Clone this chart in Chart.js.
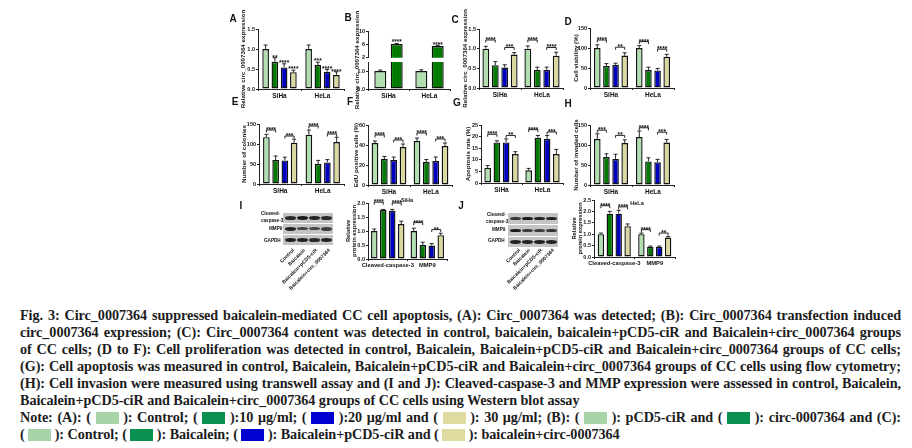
<!DOCTYPE html>
<html lang="en">
<head>
<meta charset="UTF-8">
<title>Fig. 3</title>
<script src="https://cdn.jsdelivr.net/npm/chart.js"></script>
<style>
    html, body { margin: 0; padding: 0; background: #fff; width: 912px; height: 448px; overflow: hidden; }
    #fig { position: absolute; left: 0; top: 0; width: 912px; height: 290px; filter: blur(0.4px); }
    #fig canvas { position: absolute; }
    .t { position: absolute; font-family: "Liberation Sans", Arial, sans-serif; font-weight: bold; color: #111; white-space: nowrap; }
    .letter { font-size: 10px; transform: translate(-50%, -50%); }
    .strip { position: absolute; background: #c4c4c4; }
    .band { position: absolute; background: #111; border-radius: 50%; filter: blur(0.6px); }
    .line { position: absolute; left: 20px; width: 881px; font: bold 14.2px/17px "Liberation Serif", "Times New Roman", serif; letter-spacing: -0.06px; color: #1c1c1c; white-space: nowrap; }
    .just { text-align: justify; text-align-last: justify; white-space: normal; }
    .sw { display: inline-block; width: 23px; height: 12px; vertical-align: -2px; }
    .lg { background: #a8d5a8; } .dg { background: #0a9150; } .bl { background: #0000d0; } .kh { background: #dedba0; }
</style>
</head>
<body>
<div id="fig"></div>
<div class="line just" style="top:307px">Fig. 3: Circ_0007364 suppressed baicalein-mediated CC cell apoptosis, (A): Circ_0007364 was detected; (B): Circ_0007364 transfection induced</div>
<div class="line just" style="top:324px">circ_0007364 expression; (C): Circ_0007364 content was detected in control, baicalein, baicalein+pCD5-ciR and Baicalein+circ_0007364 groups</div>
<div class="line just" style="top:341px">of CC cells; (D to F): Cell proliferation was detected in control, Baicalein, Baicalein+pCD5-ciR and Baicalein+circ_0007364 groups of CC cells;</div>
<div class="line just" style="top:358px">(G): Cell apoptosis was measured in control, Baicalein, Baicalein+pCD5-ciR and Baicalein+circ_0007364 groups of CC cells using flow cytometry;</div>
<div class="line just" style="top:375px">(H): Cell invasion were measured using transwell assay and (I and J): Cleaved-caspase-3 and MMP expression were assessed in control, Baicalein,</div>
<div class="line" style="top:392px">Baicalein+pCD5-ciR and Baicalein+circ_0007364 groups of CC cells using Western blot assay</div>
<div class="line just" style="top:409px">Note: (A): ( <span class="sw lg"></span> ): Control; ( <span class="sw dg"></span> ):10 μg/ml; ( <span class="sw bl"></span> ):20 μg/ml and ( <span class="sw kh"></span> ): 30 μg/ml; (B): ( <span class="sw lg"></span> ): pCD5-ciR and ( <span class="sw dg"></span> ): circ-0007364 and (C):</div>
<div class="line" style="top:426px">( <span class="sw lg"></span> ): Control; ( <span class="sw dg"></span> ): Baicalein; ( <span class="sw bl"></span> ): Baicalein+pCD5-ciR and ( <span class="sw kh"></span> ): baicalein+circ-0007364</div>
<script>
const cells = ['SiHa', 'HeLa'];
const proteins = ['Cleaved-caspase-3', 'MMP9'];
const laneNames = ['Control', 'Baicalein', 'Baicalein+pCD5-ciR', 'Baicalein+circ_0007364'];

// one row per bar colour, [first group, second group]
const aBars = [[1.0, 1.0], [0.68, 0.60], [0.54, 0.43], [0.42, 0.35]];
const aErrs = [[0.10, 0.10], [0.10, 0.07], [0.09, 0.06], [0.05, 0.08]];
// marks: group, from bar, to bar, value, stars
const aMarks = [[0,1,1,0.83,'**'], [0,2,2,0.71,'****'], [0,3,3,0.56,'****'], [1,1,1,0.75,'***'], [1,2,2,0.56,'****'], [1,3,3,0.47,'****']];

const bBars = [[1.0, 1.0], [6.1, 5.5]];
const bErrs = [[0.05, 0.07], [0.15, 0.2]];
const bMarks = [[0,1,1,7.3,'****'], [1,1,1,6.5,'****']];

const cBars = [[1.0, 1.0], [0.58, 0.46], [0.52, 0.46], [0.85, 0.82]];
const cErrs = [[0.06, 0.07], [0.09, 0.07], [0.07, 0.07], [0.05, 0.09]];
const cMarks = [[0,0,1,1.22,'****'], [0,2,3,1.03,'***'], [1,0,1,1.22,'****'], [1,2,3,1.03,'****']];

const dBars = [[100, 100], [55, 45], [58, 44], [81, 78]];
const dErrs = [[8, 6], [6, 7], [4, 5], [7, 6]];
const dMarks = [[0,0,1,120,'****'], [0,2,3,102,'**'], [1,0,1,116,'****'], [1,2,3,97,'****']];

const eBars = [[117, 123], [60, 50], [59, 54], [103, 105]];
const eErrs = [[7, 12], [10, 9], [8, 7], [9, 12]];
const eMarks = [[0,0,1,135,'****'], [0,2,3,120,'***'], [1,0,1,145,'****'], [1,2,3,125,'****']];

const fBars = [[42, 44], [26, 23], [25, 24], [38, 39]];
const fErrs = [[2, 3], [2.5, 2.5], [3, 4], [3, 3]];
const fMarks = [[0,0,1,50,'****'], [0,2,3,45,'***'], [1,0,1,52,'****'], [1,2,3,46,'***']];

const gBars = [[6.5, 5.5], [17.5, 19.5], [17.5, 19], [12.5, 12.5]];
const gErrs = [[1, 0.8], [0.7, 1], [1.5, 1.5], [1, 2]];
const gMarks = [[0,0,1,21,'****'], [0,2,3,20.5,'**'], [1,0,1,23,'****'], [1,2,3,22,'***']];

const hBars = [[115, 120], [70, 59], [65, 57], [105, 106]];
const hErrs = [[13, 15], [8, 9], [12, 7], [8, 8]];
const hMarks = [[0,0,1,137,'***'], [0,2,3,124,'**'], [1,0,1,143,'****'], [1,2,3,132,'***']];

const iBars = [[1.0, 1.0], [1.75, 0.5], [1.72, 0.48], [1.25, 0.85]];
const iErrs = [[0.07, 0.1], [0.02, 0.1], [0.05, 0.07], [0.1, 0.07]];
const iMarks = [[0,0,1,2.03,'****'], [0,2,3,2.0,'****'], [1,0,1,1.3,'****'], [1,2,3,1.05,'**']];

const jBars = [[1.0, 1.0], [1.9, 0.45], [1.9, 0.45], [1.35, 0.85]];
const jErrs = [[0.05, 0.05], [0.1, 0.03], [0.15, 0.03], [0.1, 0.05]];
const jMarks = [[0,0,1,2.25,'****'], [0,2,3,2.2,'****'], [1,0,1,1.2,'****'], [1,2,3,1.05,'**']];

// band darkness per lane, one row per blot strip
const iBands = [[0.85, 0.95, 0.9, 0.85], [0.9, 0.7, 0.7, 0.75], [0.9, 0.9, 0.85, 0.9]];
const jBands = [[0.8, 0.95, 0.9, 0.9], [0.95, 0.75, 0.75, 0.8], [0.9, 0.9, 0.9, 0.9]];

const barColors = ['#b2dfb0', '#007a00', '#0000c0', '#d9d8a0'];
const sans = '"Liberation Sans", Arial, sans-serif';
const fig = document.getElementById('fig');

function marksPlugin(errs, marks) {
    return {
        id: 'errMarks',
        afterDatasetsDraw(chart) {
            const ctx = chart.ctx, y = chart.scales.y;
            ctx.save();
            ctx.strokeStyle = '#111';
            ctx.lineWidth = 0.9;
            errs.forEach((row, s) => row.forEach((e, c) => {
                const v = chart.data.datasets[s].data[c];
                if (v < y.min || v > y.max) return;
                const x = chart.getDatasetMeta(s).data[c].x;
                const y1 = y.getPixelForValue(v), y2 = y.getPixelForValue(v + e);
                ctx.beginPath();
                ctx.moveTo(x, y1); ctx.lineTo(x, y2);
                ctx.moveTo(x - 2, y2); ctx.lineTo(x + 2, y2);
                ctx.stroke();
            }));
            ctx.fillStyle = '#111';
            ctx.font = 'bold 6.5px ' + sans;
            ctx.textAlign = 'center';
            marks.forEach(([c, a, b, v, txt]) => {
                const xa = chart.getDatasetMeta(a).data[c].x, xb = chart.getDatasetMeta(b).data[c].x;
                const py = y.getPixelForValue(v);
                if (a !== b) {
                    ctx.beginPath();
                    ctx.moveTo(xa, py + 2.5); ctx.lineTo(xa, py); ctx.lineTo(xb, py); ctx.lineTo(xb, py + 2.5);
                    ctx.stroke();
                }
                ctx.fillText(txt, (xa + xb) / 2, py + (a === b ? 4 : 2));
            });
            ctx.restore();
        }
    };
}

// px: axis position on the page, in pixels
function panel(o) {
    const padL = o.padL, padT = 26, padB = o.padB || 0, xH = o.hideX ? 0 : (o.xH || 20);
    const w = padL + o.x1 - o.x0 + 10, h = padT + o.y0 - o.yTop + xH + padB;
    const cv = document.createElement('canvas');
    cv.width = w; cv.height = h;
    cv.style.left = (o.x0 - padL) + 'px';
    cv.style.top = (o.yTop - padT) + 'px';
    fig.appendChild(cv);
    const axisBits = { display: true, drawOnChartArea: false, drawTicks: true, tickLength: 2, color: '#222' };
    new Chart(cv, {
        type: 'bar',
        data: {
            labels: o.labels,
            datasets: o.bars.map((d, i) => ({
                data: d,
                backgroundColor: o.colors ? o.colors[i] : barColors[i],
                borderColor: '#111',
                borderWidth: 1.4,
                borderSkipped: false,
                categoryPercentage: o.cat,
                barPercentage: o.bar || 0.72
            }))
        },
        options: {
            responsive: false,
            animation: false,
            layout: { padding: { top: padT, right: 10, bottom: padB } },
            plugins: { legend: { display: false }, tooltip: { enabled: false } },
            scales: {
                x: {
                    display: !o.hideX,
                    afterFit: s => { s.height = xH; },
                    grid: axisBits,
                    border: { display: true, color: '#222', width: 1 },
                    ticks: { font: { family: sans, weight: 'bold', size: o.xSize || 6.5 }, color: '#111', padding: 1, maxRotation: 0, minRotation: 0, autoSkip: false }
                },
                y: {
                    min: o.min || 0, max: o.max,
                    afterFit: s => { s.width = padL; },
                    grid: axisBits,
                    border: { display: true, color: '#222', width: 1 },
                    title: {
                        display: !!o.title, text: o.title, color: '#111', padding: 0,
                        font: { family: sans, weight: 'bold', size: o.titleSize || 6.2, lineHeight: 1.1 }
                    },
                    ticks: { stepSize: o.step, font: { family: sans, weight: 'bold', size: 5.5 }, color: '#111', padding: 1, callback: o.fmt }
                }
            }
        },
        plugins: [marksPlugin(o.errs, o.marks)]
    });
}

function text(x, y, str, css) {
    const d = document.createElement('div');
    d.className = 't';
    d.textContent = str;
    d.style.cssText = `left:${x}px;top:${y}px;` + css;
    fig.appendChild(d);
    return d;
}

function blot(x, y, bandRows, heights, lanesEnd) {
    let top = y;
    bandRows.forEach((row, r) => {
        const st = document.createElement('div');
        st.className = 'strip';
        st.style.cssText = `left:${x}px;top:${top}px;width:50px;height:${heights[r]}px`;
        fig.appendChild(st);
        row.forEach((dark, i) => {
            const b = document.createElement('div');
            b.className = 'band';
            b.style.cssText = `left:${2 + i * 12}px;top:${heights[r] / 2 - 2}px;width:10.5px;height:${2 + dark * 2}px;opacity:${dark}`;
            st.appendChild(b);
        });
        top += heights[r] + 1;
    });
    laneNames.forEach((n, i) => {
        text(lanesEnd[i], y + 34, n, 'font-size:5px;transform:translateX(-100%) rotate(-45deg);transform-origin:100% 0;');
    });
}

const fmt1 = v => v.toFixed(1);
const circTitle = 'Relative circ_0007364 expression';

panel({ x0: 258, x1: 344, yTop: 29, y0: 89, padL: 18, max: 1.5, step: 0.5, fmt: fmt1, labels: cells, bars: aBars, errs: aErrs, marks: aMarks, cat: 0.86, title: circTitle });
panel({ x0: 368, x1: 450, yTop: 31, y0: 58, padL: 14, padB: 4, min: 2, max: 10, step: 2, labels: cells, bars: bBars, errs: bErrs, marks: bMarks, cat: 0.8, bar: 0.73, hideX: true, colors: ['#b2dfb0', '#007a00'] });
panel({ x0: 368, x1: 450, yTop: 62, y0: 89, padL: 14, max: 1.5, step: 0.5, fmt: fmt1, labels: cells, bars: bBars, errs: bErrs, marks: [], cat: 0.8, bar: 0.73, colors: ['#b2dfb0', '#007a00'] });
text(356, 60, circTitle, 'font-size:6.2px;writing-mode:vertical-rl;transform:translate(-50%,-50%) rotate(180deg);');
panel({ x0: 479, x1: 563, yTop: 29, y0: 88, padL: 17, max: 1.5, step: 0.5, fmt: fmt1, labels: cells, bars: cBars, errs: cErrs, marks: cMarks, cat: 0.9, title: circTitle });
panel({ x0: 590, x1: 674, yTop: 28, y0: 88, padL: 17, max: 150, step: 50, labels: cells, bars: dBars, errs: dErrs, marks: dMarks, cat: 0.87, title: 'Cell viability (%)' });

panel({ x0: 259, x1: 344, yTop: 124, y0: 184, padL: 18, max: 150, step: 50, labels: cells, bars: eBars, errs: eErrs, marks: eMarks, cat: 0.87, title: 'Number of colonies' });
panel({ x0: 368, x1: 452, yTop: 125, y0: 185, padL: 15, max: 60, step: 20, labels: cells, bars: fBars, errs: fErrs, marks: fMarks, cat: 0.89, title: 'EdU positive cells (%)' });
panel({ x0: 481, x1: 563, yTop: 125, y0: 183, padL: 16, max: 25, step: 5, labels: cells, bars: gBars, errs: gErrs, marks: gMarks, cat: 0.9, title: 'Apoptosis rate (%)' });
panel({ x0: 590, x1: 674, yTop: 125, y0: 185, padL: 17, max: 150, step: 50, labels: cells, bars: hBars, errs: hErrs, marks: hMarks, cat: 0.87, title: 'Number of invaded cells' });

panel({ x0: 368, x1: 447, yTop: 203, y0: 259, padL: 23, max: 2, step: 0.5, fmt: fmt1, labels: proteins, bars: iBars, errs: iErrs, marks: iMarks, cat: 0.91, xSize: 5.8, titleSize: 5.8, title: ['Relative', 'protein expression'] });
panel({ x0: 594, x1: 675, yTop: 200, y0: 257, padL: 23, max: 2.5, step: 0.5, fmt: fmt1, labels: proteins, bars: jBars, errs: jErrs, marks: jMarks, cat: 0.88, xSize: 5.8, titleSize: 5.8, title: ['Relative', 'protein expression'] });
text(407, 200, 'SiHa', 'font-size:5.5px;transform:translate(-50%,-50%);');
text(637, 203, 'HeLa', 'font-size:5.5px;transform:translate(-50%,-50%);');

blot(283, 213, iBands, [10, 10, 10], [291, 302, 314, 327]);
blot(508, 213, jBands, [11, 11, 10], [517, 527, 539, 551]);
[['Cleaved-', 261, 211], ['caspase-3', 261, 217.5], ['MMP9', 269, 226], ['GAPDH', 264, 238],
 ['Cleaved-', 487, 212], ['caspase-3', 486, 219], ['MMP9', 492, 227], ['GAPDH', 488, 238]].forEach(l => {
    text(l[1], l[2], l[0], 'font-size:4.6px;');
});

[['A',233,18],['B',348,17],['C',455,19],['D',568,21],['E',235,101],['F',350,101],['G',457,102],['H',568,103],['I',241,205],['J',461,205]].forEach(l => {
    const d = text(l[1], l[2], l[0], '');
    d.classList.add('letter');
});
</script>
</body>
</html>
